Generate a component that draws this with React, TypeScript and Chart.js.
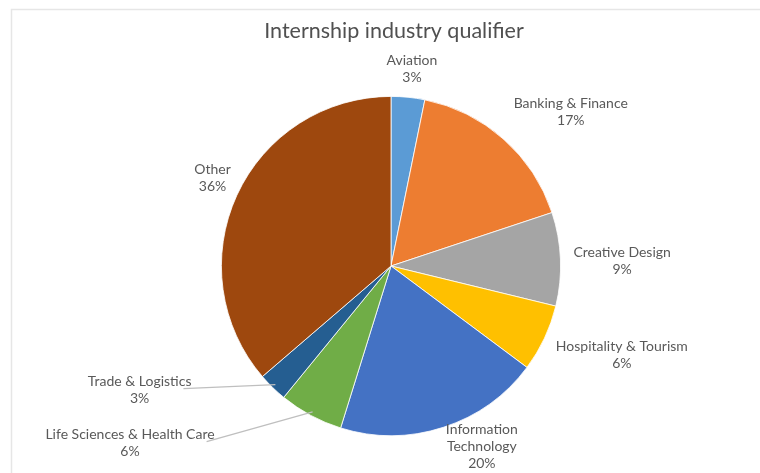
import React, { useEffect, useRef } from "react";
import { Chart, registerables } from "chart.js";

Chart.register(...registerables);

const title = "Internship industry qualifier";
const categories = [
  "Aviation",
  "Banking & Finance",
  "Creative Design",
  "Hospitality & Tourism",
  "Information Technology",
  "Life Sciences & Health Care",
  "Trade & Logistics",
  "Other",
];
const shares = [3.2, 16.7, 8.9, 6.4, 19.6, 6.1, 2.8, 36.3];
const sliceColors = [
  "#5B9BD5",
  "#ED7D31",
  "#A5A5A5",
  "#FFC000",
  "#4472C4",
  "#70AD47",
  "#255E91",
  "#9E480E",
];

// label layout (offsets from default outside position, wrap width, leader line)
const labelLayout = [
  { dx: 0, dy: 3, maxW: 200, leader: false },
  { dx: 20, dy: -4, maxW: 200, leader: false },
  { dx: -1, dy: 3, maxW: 200, leader: false },
  { dx: 5, dy: 4, maxW: 200, leader: false },
  { dx: 23, dy: -18, maxW: 90, leader: false },
  { dx: -134, dy: 0, maxW: 240, leader: true },
  { dx: -87, dy: -20, maxW: 200, leader: true },
  { dx: 5, dy: -4, maxW: 200, leader: false },
];

const FONT_FAMILY = "Lato, 'Open Sans', sans-serif";
const TEXT_COLOR = "#595959";
const LINE_H = 17;
const GAP = 14;

function wrap(ctx: CanvasRenderingContext2D, text: string, maxW: number): string[] {
  const words = text.split(" ");
  const out: string[] = [];
  let cur = "";
  for (const w of words) {
    const t = cur ? cur + " " + w : w;
    if (ctx.measureText(t).width > maxW && cur) {
      out.push(cur);
      cur = w;
    } else cur = t;
  }
  if (cur) out.push(cur);
  return out;
}

const decorPlugin = {
  id: "decor",
  beforeDraw(chart: any) {
    const ctx = chart.ctx as CanvasRenderingContext2D;
    ctx.save();
    ctx.fillStyle = "#ffffff";
    ctx.fillRect(0, 0, chart.width, chart.height);
    ctx.strokeStyle = "#E6E6E6";
    ctx.lineWidth = 1.5;
    ctx.strokeRect(11.5, 9.5, chart.width + 20, chart.height + 20);
    ctx.fillStyle = "#505050";
    ctx.font = `21.5px ${FONT_FAMILY}`;
    ctx.textAlign = "center";
    ctx.textBaseline = "middle";
    ctx.fillText(title, 394, 31);
    ctx.restore();
  },
  afterDatasetsDraw(chart: any) {
    const ctx = chart.ctx as CanvasRenderingContext2D;
    const meta = chart.getDatasetMeta(0);
    const data = chart.data.datasets[0].data as number[];
    const total = data.reduce((a, b) => a + b, 0);
    ctx.save();
    ctx.font = `14px ${FONT_FAMILY}`;
    ctx.textAlign = "center";
    ctx.textBaseline = "middle";
    meta.data.forEach((arc: any, i: number) => {
      const { x, y, startAngle, endAngle, outerRadius } = arc.getProps(
        ["x", "y", "startAngle", "endAngle", "outerRadius"],
        true
      );
      const lay = labelLayout[i];
      const mid = (startAngle + endAngle) / 2;
      const c = Math.cos(mid);
      const s = Math.sin(mid);
      const lines = [
        ...wrap(ctx, chart.data.labels[i], lay.maxW),
        Math.round((data[i] / total) * 100) + "%",
      ];
      const w = Math.max(...lines.map((t) => ctx.measureText(t).width));
      const h = lines.length * LINE_H;
      const ax = x + c * (outerRadius + GAP);
      const ay = y + s * (outerRadius + GAP);
      const bx = ax + (c * w) / 2 + lay.dx;
      const by = ay + (s * h) / 2 + lay.dy;
      if (lay.leader) {
        ctx.strokeStyle = "#BFBFBF";
        ctx.lineWidth = 1.2;
        ctx.beginPath();
        ctx.moveTo(x + c * (outerRadius - 4), y + s * (outerRadius - 4));
        ctx.lineTo(bx + w / 2 - 8, by - h / 2 + LINE_H - 1);
        ctx.stroke();
      }
      ctx.fillStyle = TEXT_COLOR;
      lines.forEach((t, j) => {
        ctx.fillText(t, bx, by - h / 2 + LINE_H * (j + 0.5));
      });
    });
    ctx.restore();
  },
};

export default function App() {
  const ref = useRef<HTMLCanvasElement | null>(null);
  useEffect(() => {
    if (!ref.current) return;
    const chart = new Chart(ref.current, {
      type: "pie",
      data: {
        labels: categories,
        datasets: [
          {
            data: shares,
            backgroundColor: sliceColors,
            borderColor: "#ffffff",
            borderWidth: 0.8,
          },
        ],
      },
      options: {
        responsive: false,
        animation: false,
        layout: { padding: { top: 96, bottom: 37, left: 221, right: 199 } },
        plugins: {
          legend: { display: false },
          title: { display: false },
          tooltip: { enabled: false },
        },
      },
      plugins: [decorPlugin],
    });
    return () => chart.destroy();
  }, []);
  return (
    <div style={{ position: "absolute", left: 0, top: 0, width: 760, height: 473 }}>
      <canvas ref={ref} width={760} height={473} style={{ width: 760, height: 473 }} />
    </div>
  );
}
